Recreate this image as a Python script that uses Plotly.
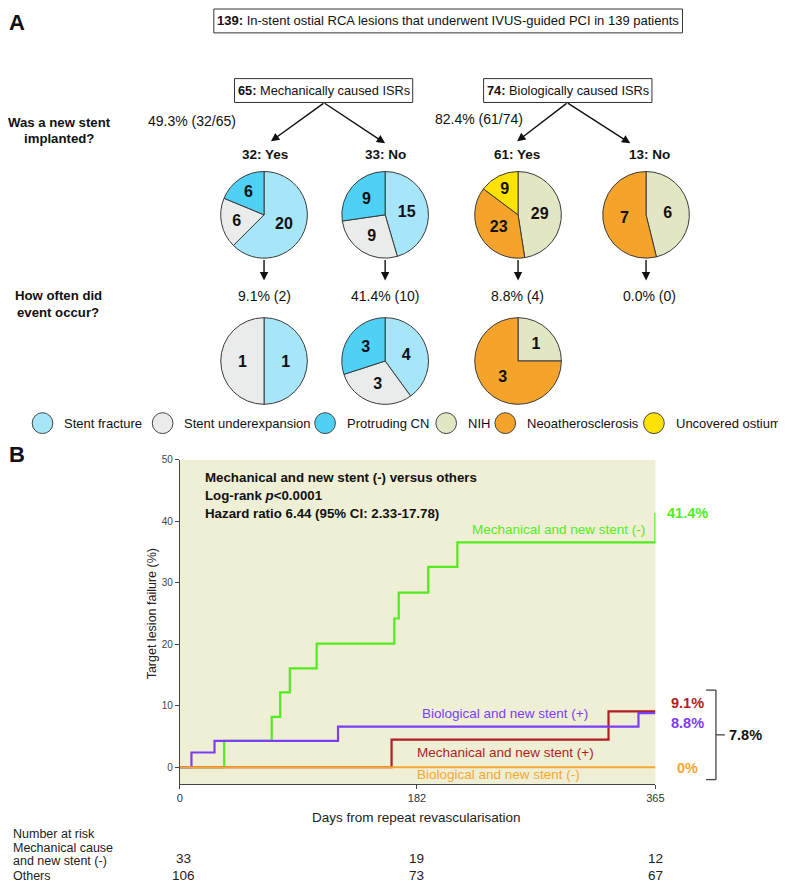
import plotly.graph_objects as go

# Page body has an 8px default margin, so the figure is drawn 8px in from the
# top-left corner of the window; all layout coordinates below are given in
# window pixels and converted with that offset.
OFF = 8
W, H = 786 - OFF, 883 - OFF

# ---------------- data ----------------
categories = ["Stent fracture", "Stent underexpansion", "Protruding CN",
              "NIH", "Neoatherosclerosis", "Uncovered ostium"]

mech_labels = ["Stent fracture", "Stent underexpansion", "Protruding CN"]
bio_labels = ["NIH", "Neoatherosclerosis", "Uncovered ostium"]

mech_stent_yes = [20, 6, 6]
mech_stent_no = [15, 9, 9]
bio_stent_yes = [29, 23, 9]
bio_stent_no = [6, 7]

mech_yes_events = [1, 1]
mech_no_events = [4, 3, 3]
bio_yes_events = [1, 3]

# Kaplan-Meier curves (days, cumulative % target lesion failure)
green_days = [0, 34, 70.5, 77, 84.4, 105, 164.6, 168, 190.6, 213, 365, 365]
green_tlf = [0, 4.3, 8.2, 12.2, 16.1, 20.1, 24.2, 28.4, 32.6, 36.6, 36.6, 41.4]
purple_days = [0, 8.9, 26.6, 121.4, 352, 365]
purple_tlf = [0, 2.4, 4.3, 6.6, 8.8, 8.8]
red_days = [0, 162.5, 329, 365]
red_tlf = [0, 4.5, 9.1, 9.1]
orange_days = [0, 365]
orange_tlf = [0, 0]

x_ticks = [0, 182, 365]
y_ticks = [0, 10, 20, 30, 40, 50]

risk_days = [0, 182, 365]
risk_mech = [33, 19, 12]
risk_others = [106, 73, 67]

# ---------------- style ----------------
NARROW = "Liberation Sans, Arial, sans-serif"
SANS = "Liberation Sans, Arial, sans-serif"
cat_colors = {
    "Stent fracture": "#a7e5f8",
    "Stent underexpansion": "#e9ecea",
    "Protruding CN": "#4fd1f6",
    "NIH": "#e3e6c2",
    "Neoatherosclerosis": "#f6a32c",
    "Uncovered ostium": "#ffe300",
}
GREEN = "#52ec1e"
PURPLE = "#7b3df6"
RED = "#b01d22"
ORANGE = "#f7a634"
BG = "#efefd6"


def px(x):
    return (x - OFF) / W


def py(y):
    return 1 - (y - OFF) / H


fig = go.Figure()


def add_pie(labels, values, cx, cy, r=44):
    fig.add_trace(go.Pie(
        labels=labels, values=values,
        marker=dict(colors=[cat_colors[l] for l in labels],
                    line=dict(color="#3a3a3a", width=1)),
        domain=dict(x=[px(cx - r), px(cx + r)], y=[py(cy + r), py(cy - r)]),
        sort=False, direction="clockwise", rotation=0,
        texttemplate="<b>%{value}</b>", textposition="inside",
        insidetextorientation="horizontal",
        textfont=dict(family=NARROW, size=16, color="#111"),
        showlegend=False, hoverinfo="label+value",
    ))


add_pie(mech_labels, mech_stent_yes, 265, 211)
add_pie(mech_labels, mech_stent_no, 388, 211)
add_pie(bio_labels, bio_stent_yes, 523, 211)
add_pie(bio_labels[:2], bio_stent_no, 653, 211)
add_pie(mech_labels[:2], mech_yes_events, 265, 358)
add_pie(mech_labels, mech_no_events, 388, 358)
add_pie(bio_labels[:2], bio_yes_events, 523, 358)

# KM curves (drawing order: green, red, purple, orange)
for xs, ys, col in [(green_days, green_tlf, GREEN), (red_days, red_tlf, RED),
                    (purple_days, purple_tlf, PURPLE), (orange_days, orange_tlf, ORANGE)]:
    fig.add_trace(go.Scatter(x=xs, y=ys, mode="lines", line=dict(color=col, width=2.2, shape="hv"),
                             showlegend=False, hoverinfo="skip", cliponaxis=False))

annotations = []


def ann(text, x, y, size=15, color="#111", family=NARROW, xanchor="center", **kw):
    annotations.append(dict(text=text, x=px(x), y=py(y), xref="paper", yref="paper",
                            showarrow=False, xanchor=xanchor, yanchor="middle",
                            font=dict(family=family, size=size, color=color), **kw))


def arrow(x0, y0, x1, y1):
    annotations.append(dict(text="", x=px(x1), y=py(y1), xref="paper", yref="paper",
                            ax=x0 - x1, ay=y0 - y1, axref="pixel", ayref="pixel",
                            showarrow=True, arrowhead=2, arrowsize=1.2, arrowwidth=1.4,
                            arrowcolor="#111", standoff=0, startstandoff=0))


shapes = []


def rect(x0, y0, x1, y1, color="#333", width=1):
    shapes.append(dict(type="rect", xref="paper", yref="paper", x0=px(x0), x1=px(x1),
                       y0=py(y1), y1=py(y0), line=dict(color=color, width=width),
                       fillcolor="rgba(0,0,0,0)"))


def line(x0, y0, x1, y1, color="#333", width=1.3):
    shapes.append(dict(type="line", xref="paper", yref="paper", x0=px(x0), x1=px(x1),
                       y0=py(y0), y1=py(y1), line=dict(color=color, width=width)))


# Panel labels
ann("<b>A</b>", 14, 18, size=22)
ann("<b>B</b>", 14, 452, size=22)

# Boxes
rect(214, 4, 690, 28)
ann("<b>139:</b> In-stent ostial RCA lesions that underwent IVUS-guided PCI in 139 patients", 452, 16, size=13)
rect(235, 74, 416, 98)
ann("<b>65:</b> Mechanically caused ISRs", 325.5, 86, size=12.8)
rect(488, 74, 659, 98)
ann("<b>74:</b> Biologically caused ISRs", 573.5, 86, size=12.8)

# Tree arrows
arrow(326, 98, 272, 137)
arrow(326, 98, 388, 139)
arrow(573, 98, 522, 137)
arrow(573, 98, 637, 139)
for cx in [265, 388, 523, 653]:
    arrow(cx, 255, cx, 277)

# Row labels
ann("<b>Was a new stent</b>", 57, 118, size=13.2)
ann("<b>implanted?</b>", 57, 134, size=13.2)
ann("<b>How often did</b>", 56, 292, size=13.2)
ann("<b>event occur?</b>", 56, 309, size=13.2)
ann("49.3% (32/65)", 192, 117, size=14)
ann("82.4% (61/74)", 483, 115, size=14)
for t, x in [("32: Yes", 266), ("33: No", 388), ("61: Yes", 522), ("13: No", 657)]:
    ann("<b>" + t + "</b>", x, 150, size=13.5)
for t, x in [("9.1% (2)", 265), ("41.4% (10)", 388), ("8.8% (4)", 522), ("0.0% (0)", 657)]:
    ann(t, x, 293, size=14)

# Legend
legend_text_x = [60, 182, 347, 470, 530, 681]
for cat, tx in zip(categories, legend_text_x):
    cx = tx - 20
    shapes.append(dict(type="circle", xref="paper", yref="paper",
                       x0=px(cx - 10.5), x1=px(cx + 10.5), y0=py(431), y1=py(410),
                       fillcolor=cat_colors[cat], line=dict(color="#444", width=1)))
    ann(cat, tx, 421, size=13, xanchor="left")

# KM in-plot text
ann("<b>Mechanical and new stent (-) versus others</b>", 203, 475, size=13.3, xanchor="left")
ann("<b>Log-rank <i>p</i><0.0001</b>", 203, 493, size=13.3, xanchor="left")
ann("<b>Hazard ratio 6.44 (95% CI: 2.33-17.78)</b>", 203, 511, size=13.3, xanchor="left")

ann("Mechanical and new stent (-)", 474, 527, size=13.5, color=GREEN, family=SANS, xanchor="left")
ann("Biological and new stent (+)", 423, 713, size=13.5, color=PURPLE, family=SANS, xanchor="left")
ann("Mechanical and new stent (+)", 418, 752, size=13.5, color=RED, family=SANS, xanchor="left")
ann("Biological and new stent (-)", 418, 774, size=13.5, color=ORANGE, family=SANS, xanchor="left")

ann("<b>41.4%</b>", 695, 511, size=14.5, color=GREEN)
ann("<b>9.1%</b>", 695, 702, size=14.5, color=RED)
ann("<b>8.8%</b>", 695, 722, size=14.5, color=PURPLE)
ann("<b>0%</b>", 695, 767, size=14.5, color=ORANGE)
ann("<b>7.8%</b>", 754, 734, size=14.5, color="#111")

# bracket
line(714, 689, 724, 689, color="#444")
line(724, 689, 724, 779, color="#444")
line(714, 779, 724, 779, color="#444")
line(724, 734, 733, 734, color="#444")

# axis titles
annotations.append(dict(text="Target lesion failure (%)", x=px(151), y=py(612), xref="paper", yref="paper",
                        showarrow=False, textangle=-90, xanchor="center", yanchor="middle",
                        font=dict(family=SANS, size=12.5, color="#222")))
ann("Days from repeat revascularisation", 420, 817, size=13.5, color="#222")

# number at risk
ann("Number at risk", 8, 834, size=12.5, color="#222", xanchor="left")
ann("Mechanical cause", 8, 847.5, size=12.5, color="#222", xanchor="left")
ann("and new stent (-)", 8, 861, size=12.5, color="#222", xanchor="left")
ann("Others", 8, 875.5, size=12.5, color="#222", xanchor="left")
for d, a, b in zip(risk_days, risk_mech, risk_others):
    xpix = 179.5 + d * (483.0 / 365.0)
    if d == 0:
        xpix += 4
    ann(str(a), xpix, 858, size=13.5, color="#222")
    ann(str(b), xpix, 875.5, size=13.5, color="#222")

fig.update_layout(
    width=W, height=H, margin=dict(l=0, r=0, t=0, b=0),
    paper_bgcolor="white", plot_bgcolor=BG,
    annotations=annotations, shapes=shapes,
    xaxis=dict(domain=[px(179.5), px(662.5)], range=[0, 365], tickvals=x_ticks,
               ticks="outside", ticklen=4, tickcolor="#444", showline=True, linecolor="#444",
               linewidth=1, showgrid=False, zeroline=False,
               tickfont=dict(family=NARROW, size=11, color="#333"), anchor="y"),
    yaxis=dict(domain=[py(783.3), py(457.5)], range=[-2.7, 50], tickvals=y_ticks,
               ticks="outside", ticklen=4, tickcolor="#444", showline=True, linecolor="#444",
               linewidth=1, showgrid=False, zeroline=False,
               tickfont=dict(family=NARROW, size=10, color="#444"), anchor="x"),
)

fig.write_html("out.html")
